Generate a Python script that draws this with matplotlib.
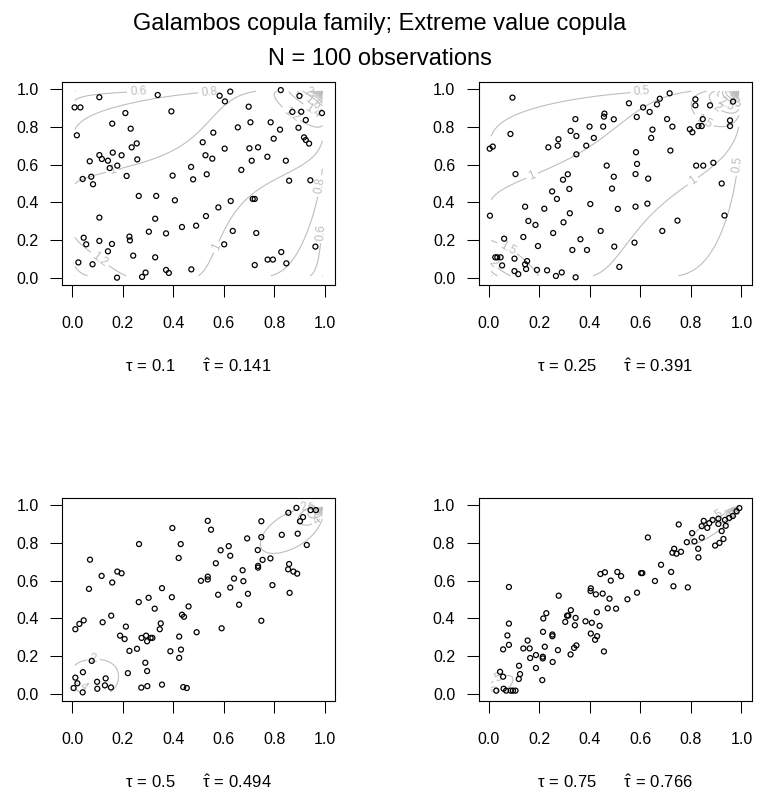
import numpy as np
import matplotlib
matplotlib.use("Agg")
import matplotlib.pyplot as plt

plt.rcParams['font.family'] = ['Liberation Sans', 'DejaVu Sans']
plt.rcParams['mathtext.fontset'] = 'custom'
plt.rcParams['mathtext.rm'] = 'Liberation Sans'
plt.rcParams['mathtext.it'] = 'Liberation Sans'
plt.rcParams['mathtext.bf'] = 'Liberation Sans:bold'

# ---------------- data ----------------
title_lines = ["Galambos copula family; Extreme value copula", "N = 100 observations"]
tau_true = [0.1, 0.25, 0.5, 0.75]
tau_hat = [0.141, 0.391, 0.494, 0.766]
tick_vals = [0.0, 0.2, 0.4, 0.6, 0.8, 1.0]
tick_labels = ["0.0", "0.2", "0.4", "0.6", "0.8", "1.0"]
contour_steps = [0.2, 0.5, 2.0, 5.0]

u1 = [0.107, 0.338, 0.009, 0.032, 0.210, 0.392, 0.158, 0.231, 0.018, 0.255, 0.235, 0.107, 0.160, 0.195, 0.117,
      0.141, 0.069, 0.257, 0.178, 0.148, 0.215, 0.397, 0.075, 0.041, 0.082, 0.263, 0.332, 0.406, 0.107, 0.328,
      0.434, 0.303, 0.371, 0.045, 0.226, 0.228, 0.055, 0.107, 0.157, 0.141, 0.241, 0.328, 0.024, 0.080, 0.177,
      0.276, 0.290, 0.371, 0.382,
      0.583, 0.625, 0.604, 0.825, 0.899, 0.698, 0.871, 0.906, 0.988, 0.924, 0.705, 0.785, 0.655, 0.895, 0.822,
      0.558, 0.797, 0.917, 0.924, 0.937, 0.516, 0.603, 0.701, 0.735, 0.527, 0.554, 0.772, 0.710, 0.845, 0.470,
      0.669, 0.478, 0.532, 0.858, 0.942, 0.714, 0.722, 0.627, 0.578, 0.529, 0.490, 0.635, 0.728, 0.601, 0.962,
      0.827, 0.773, 0.794, 0.722, 0.847, 0.471]
v1 = [0.958, 0.970, 0.904, 0.904, 0.874, 0.883, 0.818, 0.791, 0.756, 0.713, 0.692, 0.651, 0.664, 0.650, 0.630,
      0.621, 0.618, 0.628, 0.595, 0.582, 0.540, 0.542, 0.536, 0.524, 0.496, 0.434, 0.434, 0.411, 0.319, 0.313,
      0.269, 0.244, 0.235, 0.212, 0.218, 0.198, 0.177, 0.195, 0.179, 0.140, 0.117, 0.108, 0.081, 0.071, 0.000,
      0.004, 0.027, 0.041, 0.025,
      0.966, 0.988, 0.936, 0.996, 0.965, 0.908, 0.880, 0.881, 0.874, 0.837, 0.825, 0.825, 0.798, 0.796, 0.786,
      0.770, 0.738, 0.745, 0.731, 0.712, 0.719, 0.685, 0.687, 0.692, 0.650, 0.632, 0.642, 0.621, 0.621, 0.588,
      0.572, 0.522, 0.549, 0.515, 0.517, 0.418, 0.418, 0.407, 0.373, 0.327, 0.276, 0.248, 0.237, 0.177, 0.165,
      0.136, 0.096, 0.096, 0.067, 0.076, 0.044]

u2 = [0.094, 0.086, 0.004, 0.016, 0.106, 0.236, 0.251, 0.270, 0.005, 0.144, 0.220, 0.157, 0.185, 0.255, 0.061,
      0.137, 0.195, 0.026, 0.034, 0.047, 0.102, 0.053, 0.152, 0.144, 0.148, 0.102, 0.117, 0.191, 0.231, 0.266,
      0.716, 0.677, 0.818, 0.818, 0.555, 0.666, 0.611, 0.637, 0.458, 0.456, 0.343, 0.495, 0.586, 0.706, 0.847,
      0.399, 0.453, 0.727, 0.830, 0.843, 0.796, 0.806, 0.648, 0.324, 0.347, 0.416, 0.643, 0.276, 0.273, 0.386,
      0.347, 0.583, 0.719, 0.587, 0.467, 0.821, 0.849, 0.313, 0.294, 0.495, 0.581, 0.631, 0.319, 0.488, 0.402,
      0.511, 0.581, 0.628, 0.321, 0.296, 0.443, 0.687, 0.747, 0.363, 0.331, 0.389, 0.497, 0.577, 0.517, 0.289,
      0.344, 0.876, 0.967, 0.955, 0.955, 0.889, 0.922, 0.933]
v2 = [0.956, 0.763, 0.685, 0.696, 0.550, 0.692, 0.458, 0.418, 0.329, 0.377, 0.366, 0.301, 0.280, 0.237, 0.207,
      0.216, 0.168, 0.108, 0.108, 0.108, 0.101, 0.065, 0.088, 0.071, 0.046, 0.035, 0.019, 0.041, 0.039, 0.009,
      0.979, 0.950, 0.947, 0.915, 0.926, 0.920, 0.904, 0.880, 0.871, 0.855, 0.842, 0.841, 0.853, 0.842, 0.842,
      0.802, 0.802, 0.802, 0.805, 0.805, 0.788, 0.772, 0.786, 0.779, 0.752, 0.742, 0.742, 0.735, 0.701, 0.701,
      0.655, 0.666, 0.675, 0.604, 0.595, 0.595, 0.595, 0.549, 0.520, 0.536, 0.550, 0.526, 0.471, 0.473, 0.391,
      0.365, 0.377, 0.393, 0.342, 0.294, 0.248, 0.248, 0.303, 0.204, 0.147, 0.147, 0.165, 0.186, 0.057, 0.028,
      0.002, 0.915, 0.935, 0.835, 0.805, 0.610, 0.500, 0.330]

u3 = [0.396, 0.429, 0.264, 0.421, 0.070, 0.116, 0.178, 0.195, 0.158, 0.066, 0.355, 0.263, 0.302, 0.394, 0.326,
      0.460, 0.012, 0.028, 0.045, 0.120, 0.154, 0.212, 0.189, 0.207, 0.350, 0.346, 0.434, 0.442, 0.274, 0.292,
      0.296, 0.310, 0.317, 0.423, 0.226, 0.256, 0.388, 0.430, 0.423, 0.289, 0.296, 0.077, 0.042, 0.012, 0.020,
      0.005, 0.041, 0.098, 0.099, 0.132, 0.129, 0.153, 0.220, 0.273, 0.297, 0.355, 0.439, 0.453,
      0.887, 0.855, 0.943, 0.964, 0.913, 0.901, 0.536, 0.748, 0.549, 0.748, 0.692, 0.829, 0.892, 0.928, 0.587,
      0.619, 0.625, 0.734, 0.753, 0.784, 0.568, 0.735, 0.735, 0.858, 0.854, 0.875, 0.890, 0.674, 0.536, 0.536,
      0.509, 0.640, 0.677, 0.625, 0.792, 0.695, 0.577, 0.860, 0.660, 0.492, 0.591, 0.748]
v3 = [0.879, 0.794, 0.794, 0.720, 0.711, 0.625, 0.648, 0.639, 0.590, 0.556, 0.560, 0.486, 0.509, 0.512, 0.451,
      0.463, 0.342, 0.370, 0.389, 0.379, 0.414, 0.356, 0.308, 0.290, 0.373, 0.342, 0.419, 0.408, 0.296, 0.308,
      0.278, 0.296, 0.296, 0.303, 0.227, 0.238, 0.225, 0.234, 0.190, 0.164, 0.120, 0.174, 0.114, 0.085, 0.055,
      0.030, 0.007, 0.063, 0.026, 0.081, 0.044, 0.033, 0.109, 0.032, 0.040, 0.048, 0.035, 0.030,
      0.986, 0.960, 0.974, 0.974, 0.937, 0.915, 0.917, 0.915, 0.870, 0.831, 0.824, 0.843, 0.849, 0.789, 0.761,
      0.783, 0.732, 0.762, 0.710, 0.718, 0.692, 0.678, 0.669, 0.688, 0.660, 0.648, 0.637, 0.655, 0.621, 0.606,
      0.599, 0.611, 0.597, 0.563, 0.576, 0.530, 0.525, 0.535, 0.472, 0.326, 0.347, 0.387]

u4 = [0.080, 0.080, 0.074, 0.080, 0.057, 0.154, 0.137, 0.162, 0.164, 0.187, 0.214, 0.214, 0.222, 0.215, 0.216,
      0.228, 0.252, 0.252, 0.253, 0.274, 0.277, 0.187, 0.212, 0.120, 0.124, 0.119, 0.045, 0.057, 0.030, 0.059,
      0.069, 0.087, 0.096, 0.106,
      0.851, 0.843, 0.752, 0.805, 0.814, 0.784, 0.829, 0.830, 0.630, 0.734, 0.727, 0.743, 0.761, 0.682, 0.722,
      0.731, 0.788, 0.658, 0.603, 0.608, 0.442, 0.460, 0.509, 0.524, 0.483, 0.587, 0.549, 0.404, 0.403, 0.424,
      0.451, 0.478, 0.471, 0.504, 0.325, 0.310, 0.315, 0.303, 0.344, 0.341, 0.428, 0.383, 0.408, 0.439, 0.404,
      0.429, 0.421, 0.347, 0.338, 0.324, 0.456,
      0.992, 0.981, 0.966, 0.952, 0.935, 0.938, 0.909, 0.909, 0.886, 0.873, 0.865, 0.843, 0.922, 0.929, 0.913,
      0.896]
v4 = [0.566, 0.372, 0.309, 0.259, 0.235, 0.282, 0.240, 0.240, 0.189, 0.205, 0.196, 0.187, 0.249, 0.328, 0.399,
      0.427, 0.314, 0.305, 0.168, 0.231, 0.520, 0.136, 0.072, 0.148, 0.104, 0.078, 0.116, 0.090, 0.016, 0.026,
      0.016, 0.016, 0.016, 0.016,
      0.917, 0.889, 0.898, 0.852, 0.808, 0.804, 0.769, 0.723, 0.829, 0.769, 0.748, 0.743, 0.753, 0.684, 0.646,
      0.570, 0.564, 0.598, 0.640, 0.640, 0.635, 0.644, 0.646, 0.624, 0.600, 0.536, 0.501, 0.559, 0.545, 0.527,
      0.531, 0.504, 0.453, 0.451, 0.443, 0.414, 0.414, 0.381, 0.402, 0.363, 0.432, 0.384, 0.376, 0.360, 0.319,
      0.305, 0.286, 0.256, 0.243, 0.208, 0.224,
      0.985, 0.968, 0.943, 0.933, 0.922, 0.891, 0.929, 0.901, 0.922, 0.905, 0.880, 0.828, 0.863, 0.821, 0.800,
      0.786]

samples = [(u1, v1), (u2, v2), (u3, v3), (u4, v4)]


# ------------- Galambos copula helpers -------------
def galambos_tau(theta):
    t = np.linspace(1e-4, 1 - 1e-4, 20001)
    A = 1 - (t ** (-theta) + (1 - t) ** (-theta)) ** (-1 / theta)
    dA = np.gradient(A, t)
    d2A = np.gradient(dA, t)
    return np.trapezoid(t * (1 - t) * d2A / A, t)


def theta_from_tau(tau):
    lo, hi = 1e-3, 20.0
    for _ in range(60):
        mid = 0.5 * (lo + hi)
        if galambos_tau(mid) < tau:
            lo = mid
        else:
            hi = mid
    return 0.5 * (lo + hi)


def galambos_density(u, v, th):
    x = -np.log(u)
    y = -np.log(v)
    S = x ** (-th) + y ** (-th)
    l = x + y - S ** (-1 / th)
    C = np.exp(-l)
    lx = 1 - S ** (-1 / th - 1) * x ** (-th - 1)
    ly = 1 - S ** (-1 / th - 1) * y ** (-th - 1)
    lxy = -(1 + th) * S ** (-1 / th - 2) * (x * y) ** (-th - 1)
    return C / (u * v) * (lx * ly - lxy)


# ---------------- layout ----------------
W, H = 759, 795
fig = plt.figure(figsize=(W / 100, H / 100), dpi=100)
fig.patch.set_facecolor('white')

boxes = [(62.2, 335.1, 81.8, 285.2), (478.6, 751.5, 81.8, 285.2),
         (62.2, 335.1, 497.7, 701.2), (478.6, 751.5, 497.7, 701.2)]
sub_y = [366.7, 366.7, 782.7, 782.7]

grid = np.linspace(0.01, 0.99, 200)
GU, GV = np.meshgrid(grid, grid)

for i, (l, r, t, b) in enumerate(boxes):
    ax = fig.add_axes([l / W, 1 - b / H, (r - l) / W, (b - t) / H])
    ax.set_xlim(-0.04, 1.04)
    ax.set_ylim(-0.04, 1.04)
    th = theta_from_tau(tau_true[i])
    Z = galambos_density(GU, GV, th)
    step = contour_steps[i]
    levels = np.arange(step, np.nanmax(Z), step)
    cs = ax.contour(GU, GV, Z, levels=levels, colors='#BEBEBE', linewidths=0.8, zorder=1)
    ax.clabel(cs, inline=True, fontsize=8.5, fmt='%g', colors='#BEBEBE', inline_spacing=3)
    uu, vv = samples[i]
    ax.scatter(uu, vv, s=13, facecolors='none', edgecolors='black', linewidths=0.9, zorder=3)
    ax.set_xticks(tick_vals)
    ax.set_xticklabels(tick_labels)
    ax.set_yticks(tick_vals)
    ax.set_yticklabels(tick_labels)
    ax.tick_params(axis='both', direction='out', length=8.4, width=0.75, labelsize=11.5, colors='black')
    ax.tick_params(axis='y', pad=8.5)
    ax.tick_params(axis='x', pad=13.5)
    for sp in ax.spines.values():
        sp.set_linewidth(0.8)
        sp.set_color('black')
    cx = (l + r) / 2
    fig.text(cx / W, 1 - sub_y[i] / H,
             r'$\tau\,=\,%s\quad\quad\hat{\tau}\,=\,%s$' % (tau_true[i], tau_hat[i]),
             ha='center', va='center', fontsize=12)

fig.text(0.5, 1 - 30 / H, title_lines[0], ha='center', va='baseline', fontsize=17)
fig.text(0.5, 1 - 65 / H, title_lines[1], ha='center', va='baseline', fontsize=17)

fig.savefig('out.png', dpi=100, facecolor='white')
